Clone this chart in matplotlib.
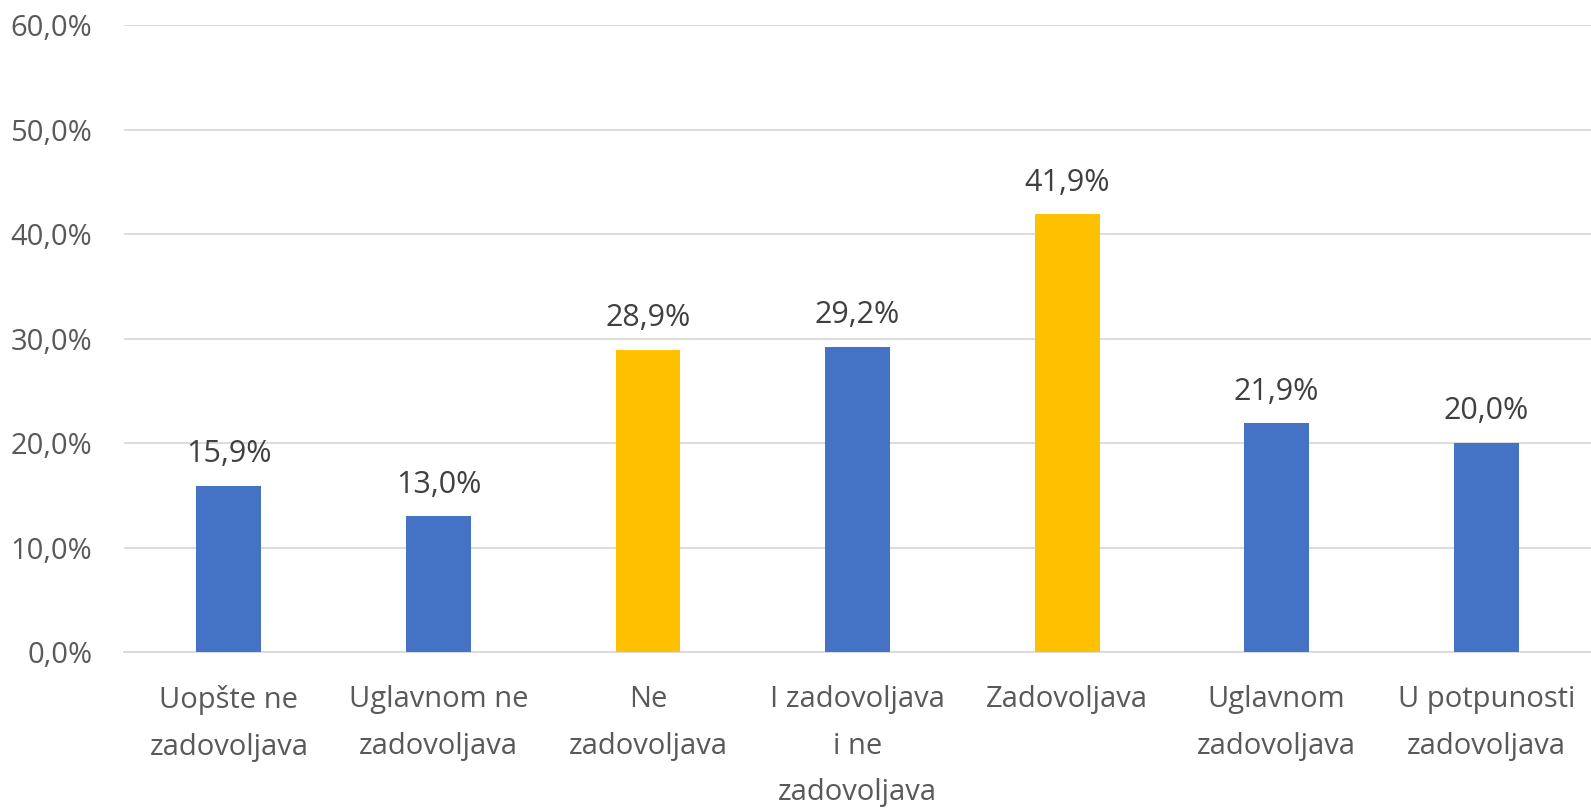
import matplotlib
matplotlib.use("Agg")
import matplotlib.pyplot as plt
from matplotlib.ticker import FuncFormatter

categories = ["Uopšte ne\nzadovoljava", "Uglavnom ne\nzadovoljava", "Ne\nzadovoljava",
              "I zadovoljava\ni ne\nzadovoljava", "Zadovoljava", "Uglavnom\nzadovoljava",
              "U potpunosti\nzadovoljava"]
values = [15.9, 13.0, 28.9, 29.2, 41.9, 21.9, 20.0]
highlight = [False, False, True, False, True, False, False]

plt.rcParams['font.family'] = ['Open Sans', 'DejaVu Sans']

fig = plt.figure(figsize=(15.91, 8.10), dpi=100)
ax = fig.add_axes([0.078, 0.195, 0.922, 0.774])

colors = ['#FFC000' if h else '#4472C4' for h in highlight]
x = range(len(values))
bars = ax.bar(x, values, width=0.31, color=colors, zorder=3)

for b, v in zip(bars, values):
    ax.annotate(f"{v:.1f}%".replace('.', ','), (b.get_x() + b.get_width() / 2, v),
                xytext=(0, 12), textcoords='offset points', ha='center', va='bottom',
                fontsize=22, color='#404040')

ax.set_ylim(0, 60)
ax.set_xlim(-0.5, len(values) - 0.5)
ax.set_yticks(range(0, 61, 10))
ax.yaxis.set_major_formatter(FuncFormatter(lambda v, p: f"{v:.1f}%".replace('.', ',')))
ax.set_xticks(list(x))
ax.set_xticklabels(categories, fontsize=21, color='#595959', linespacing=1.78)
ax.tick_params(axis='y', labelsize=21, labelcolor='#595959', length=0, pad=23)
ax.tick_params(axis='x', length=0, pad=24)
ax.grid(axis='y', color='#D9D9D9', linewidth=1.3, zorder=0)
for s in ['top', 'right', 'left']:
    ax.spines[s].set_visible(False)
ax.spines['bottom'].set_color('#D9D9D9')
ax.spines['bottom'].set_linewidth(1.3)

fig.savefig("out.png", dpi=100)
